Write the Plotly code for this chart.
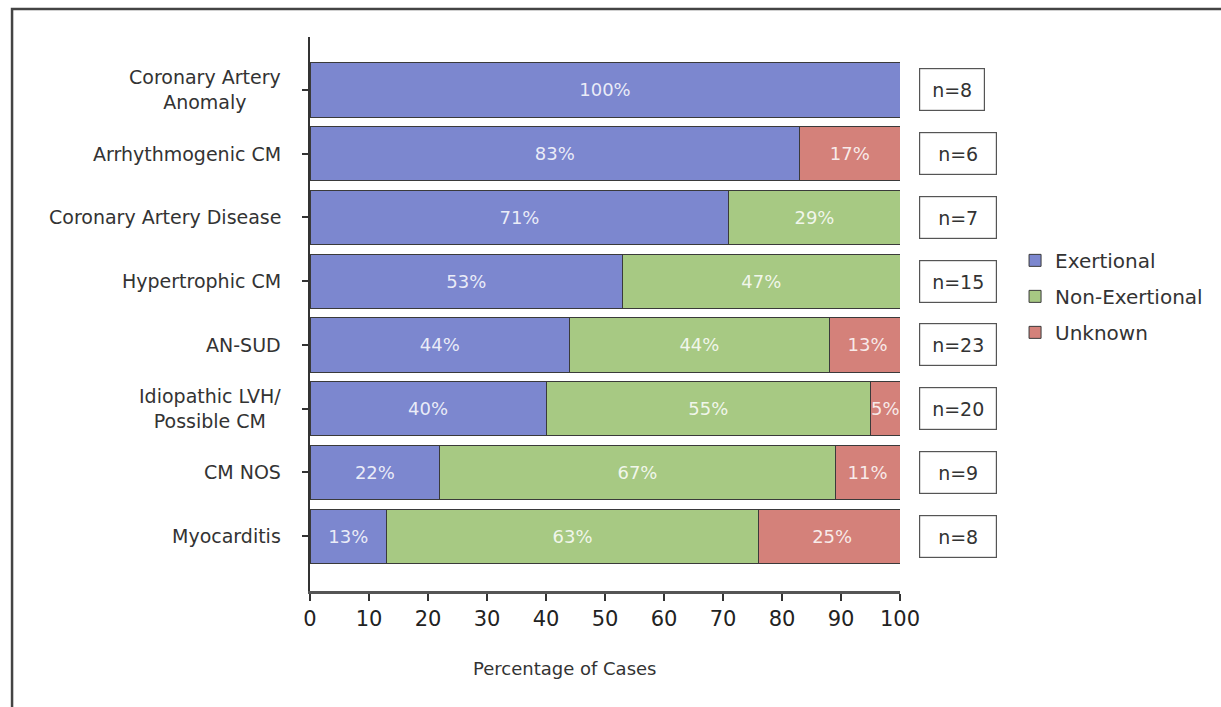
import plotly.graph_objects as go

# Cause-of-death categories, top to bottom
categories = [
    "Coronary Artery<br>Anomaly",
    "Arrhythmogenic CM",
    "Coronary Artery Disease",
    "Hypertrophic CM",
    "AN-SUD",
    "Idiopathic LVH/<br>Possible CM",
    "CM NOS",
    "Myocarditis",
]

# Percentage of cases by activity at time of event
exertional = [100, 83, 71, 53, 44, 40, 22, 13]
non_exertional = [0, 0, 29, 47, 44, 55, 67, 63]
unknown = [0, 17, 0, 0, 13, 5, 11, 25]

# Number of cases per category
n_cases = [8, 6, 7, 15, 23, 20, 9, 8]

x_ticks = [0, 10, 20, 30, 40, 50, 60, 70, 80, 90, 100]

series = [
    ("Exertional", exertional, "#7c87cf"),
    ("Non-Exertional", non_exertional, "#a7c983"),
    ("Unknown", unknown, "#d4817a"),
]

FONT = "'DejaVu Sans', Verdana, sans-serif"
INK = "#333333"

fig = go.Figure()
for name, vals, color in series:
    fig.add_trace(go.Bar(
        name=name,
        legendgroup=name,
        y=categories,
        x=vals,
        orientation="h",
        marker=dict(color=color, line=dict(color="#3a3a3a", width=1)),
        text=[f"{v}%" if v > 0 else "" for v in vals],
        textposition="inside",
        insidetextanchor="middle",
        textangle=0,
        constraintext="none",
        insidetextfont=dict(family=FONT, size=18, color="rgba(255,255,255,0.85)"),
        hoverinfo="skip",
    ))

# Category labels, each block centred on itself and right-aligned to the axis
for cat in categories:
    fig.add_annotation(
        x=-0.046, xref="paper", y=cat, yref="y",
        text=cat, showarrow=False, align="center",
        xanchor="right", yanchor="middle",
        font=dict(family=FONT, size=19, color=INK),
    )

# Case counts in boxes to the right of each bar
for i, (cat, n) in enumerate(zip(categories, n_cases)):
    fig.add_annotation(
        x=1.032, xref="paper", y=cat, yref="y",
        text=f"n={n}", showarrow=False,
        font=dict(family=FONT, size=19, color=INK),
        bordercolor="#555555", borderwidth=1.2, borderpad=7,
        width=50 if i == 0 else 62, height=27, bgcolor="white",
        xanchor="left", yanchor="middle",
    )

# X-axis title
fig.add_annotation(
    x=0.432, xref="paper", y=-0.139, yref="paper",
    text="Percentage of Cases", showarrow=False,
    xanchor="center", yanchor="middle",
    font=dict(family=FONT, size=18, color=INK),
)

# Outer frame
fig.add_shape(type="rect", xref="paper", yref="paper",
              x0=-0.505, x1=2.0, y0=-1.0, y1=1.0505,
              line=dict(color="#444444", width=2.5), fillcolor="rgba(0,0,0,0)",
              layer="below")

fig.update_layout(
    width=1221, height=707,
    margin=dict(l=310, r=321, t=37, b=116, autoexpand=False),
    barmode="stack",
    bargap=0.15,
    plot_bgcolor="white",
    paper_bgcolor="white",
    font=dict(family=FONT, color=INK),
    showlegend=True,
    legend=dict(
        x=1.195, y=0.632, xanchor="left", yanchor="top",
        font=dict(family=FONT, size=20, color=INK),
        traceorder="grouped", itemwidth=30, tracegroupgap=7,
        bgcolor="rgba(0,0,0,0)",
    ),
    xaxis=dict(
        range=[0, 100], tickvals=x_ticks,
        showgrid=False, zeroline=False,
        showline=True, linecolor="#555555", linewidth=2.5,
        ticks="outside", ticklen=7, tickwidth=2, tickcolor=INK,
        tickfont=dict(family=FONT, size=21, color="#222222"),
        fixedrange=True,
    ),
    yaxis=dict(
        range=[7.86, -0.83], type="category",
        showgrid=False, zeroline=False,
        showline=True, linecolor=INK, linewidth=2,
        ticks="outside", ticklen=6, tickwidth=2, tickcolor=INK,
        showticklabels=False,
        fixedrange=True,
    ),
)

fig.write_html("out.html")
